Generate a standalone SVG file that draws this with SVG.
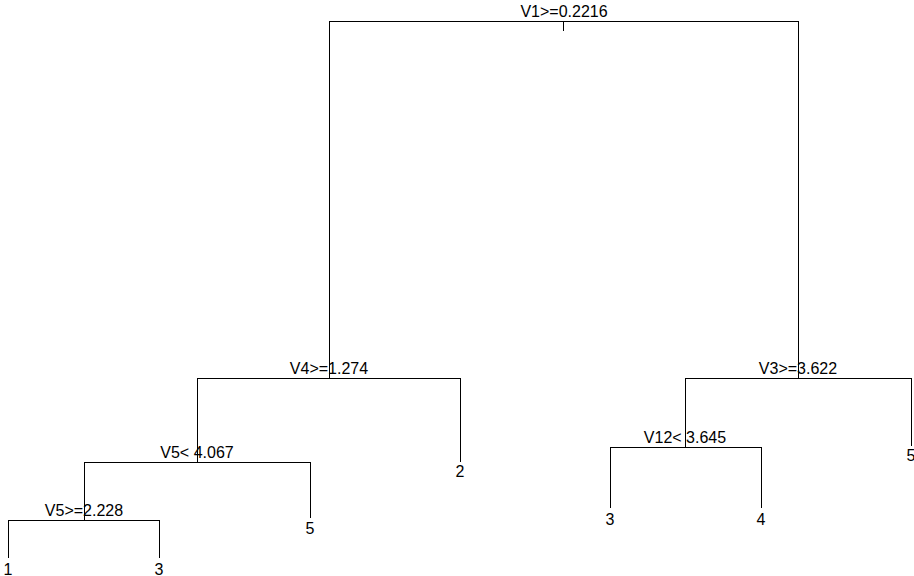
<svg xmlns="http://www.w3.org/2000/svg" width="914" height="576" viewBox="0 0 914 576">
<style>
.e{stroke:#000;stroke-width:1;fill:none;shape-rendering:crispEdges}
text{font-family:"Liberation Sans",Arial,sans-serif;font-size:16px;fill:#000;text-anchor:middle}
</style>
<rect width="914" height="576" fill="#fff"/>
<g id="connectors">
<path class="e" d="M563 21V31M329 378V21H798V378"/>
<path class="e" d="M197 462V378H460V462"/>
<path class="e" d="M685 447V378H911V446"/>
<path class="e" d="M84 520V462H310V518"/>
<path class="e" d="M610 508V447H761V508"/>
<path class="e" d="M8 558V520H159V558"/>
</g>
<g id="n1"><text x="564" y="17">V1&gt;=0.2216</text></g>
<g id="n2"><text x="329" y="374">V4&gt;=1.274</text></g>
<g id="n3"><text x="798" y="374">V3&gt;=3.622</text></g>
<g id="n4"><text x="197" y="458">V5&lt; 4.067</text></g>
<g id="n5"><text x="460" y="477">2</text></g>
<g id="n6"><text x="685" y="443">V12&lt; 3.645</text></g>
<g id="n7"><text x="911" y="461">5</text></g>
<g id="n8"><text x="84" y="516">V5&gt;=2.228</text></g>
<g id="n9"><text x="310" y="534">5</text></g>
<g id="n12"><text x="610" y="525">3</text></g>
<g id="n13"><text x="761" y="525">4</text></g>
<g id="n16"><text x="8" y="575">1</text></g>
<g id="n17"><text x="159" y="575">3</text></g>
</svg>
